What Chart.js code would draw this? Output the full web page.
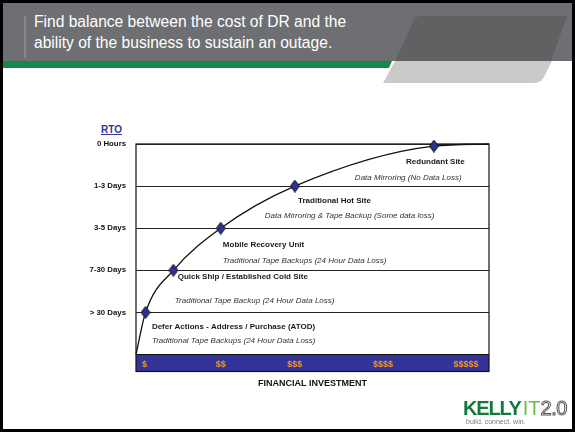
<!DOCTYPE html>
<html>
<head>
<meta charset="utf-8">
<script src="https://cdn.jsdelivr.net/npm/chart.js@4"></script>
<style>
  html, body { margin: 0; padding: 0; background: #fff; }
  #slide { position: relative; width: 575px; height: 432px; overflow: hidden; background: #fff;
           font-family: "Liberation Sans", Arial, sans-serif; }
  #deco { position: absolute; left: 0; top: 0; }
  #frame { position: absolute; left: 0; top: 0; width: 575px; height: 432px; box-sizing: border-box;
           border: 3px solid #000; z-index: 5; }
  #headline { position: absolute; left: 34px; top: 11px; color: #fff; font-size: 15.6px; line-height: 21px; }
  #rto { position: absolute; left: 101px; top: 124px; font-size: 10px; font-weight: bold; color: #333399;
         text-decoration: underline; }
  #chartBox { position: absolute; left: 0; top: 0; width: 575px; height: 432px; }
  #logo { position: absolute; left: 463px; top: 397px; white-space: nowrap; line-height: 22px; }
  #logo .kelly { font-size: 20px; font-weight: bold; color: #127a3e; letter-spacing: -1.2px; }
  #logo .it { font-size: 20px; color: #6cbd45; margin-left: 2px; }
  #logo .ver { font-size: 20px; color: #fff; -webkit-text-stroke: 1px #555; letter-spacing: -0.5px; }
  #tag { position: absolute; left: 466px; top: 418px; font-size: 7px; color: #7a7a7a; }
</style>
</head>
<body>
<div id="slide">
  <svg id="deco" width="575" height="432">
    <rect x="0" y="0" width="575" height="61" fill="#6e6f72"/>
    <path d="M395 61 L414 20 Q416 16 421 16 L567 16 L551 61 Z" fill="#606163"/>
    <path d="M0 61 H392 L389 68 H0 Z" fill="#138a4b"/>
    <path d="M395 61 H552 L544 77 Q541 83 533 83 H383 Z" fill="#cacaca"/>
    <line x1="25" y1="16" x2="25" y2="58" stroke="#8e8f92" stroke-width="1.5"/>
  </svg>
  <div id="headline">Find balance between the cost of DR and the<br>ability of the business to sustain an outage.</div>
  <div id="rto">RTO</div>
  <div id="chartBox"><canvas id="drChart"></canvas></div>
  <div id="logo"><span class="kelly">KELLY</span><span class="it">IT</span><span class="ver">2.0</span></div>
  <div id="tag">build. connect. win.</div>
  <div id="frame"></div>
</div>

<script>
const FONT = '"Liberation Sans", Arial, sans-serif';

// RTO levels (y) and investment ticks (x)
const rtoLabels = ['> 30 Days', '7-30 Days', '3-5 Days', '1-3 Days', '0 Hours'];
const rtoLevels = [1, 2, 3, 4, 5];
const costTicks = [2.4, 24, 45, 70, 93.5];
const costLabels = ['$', '$$', '$$$', '$$$$', '$$$$$'];

// cost / recovery curve, diamonds on the inner points
const investment = [0, 2.7, 10.6, 24, 45, 84.4, 100];
const recovery = [0, 1, 2, 3, 4, 4.95, 5];
const markerSize = [0, 5, 5, 5, 5, 5, 0];

const tierNames = [
  'Redundant Site',
  'Traditional Hot Site',
  'Mobile Recovery Unit',
  'Quick Ship / Established Cold Site',
  'Defer Actions - Address / Purchase (ATOD)'
];
const tierNotes = [
  'Data Mirroring (No Data Loss)',
  'Data Mirroring & Tape Backup (Some data loss)',
  'Traditional Tape Backups (24 Hour Data Loss)',
  'Traditional Tape Backup (24 Hour Data Loss)',
  'Traditional Tape Backups (24 Hour Data Loss)'
];

// where the labels sit, in chart units
const namePos = [[76.5, 4.57], [45.9, 3.64], [24.6, 2.60], [11.8, 1.85], [4.5, 0.65]];
const notePos = [[62.0, 4.20], [36.5, 3.29], [24.6, 2.22], [11.0, 1.27], [4.5, 0.33]];

function diamond(w, h) {
  const c = document.createElement('canvas');
  c.width = w; c.height = h;
  const g = c.getContext('2d');
  g.beginPath();
  g.moveTo(w / 2, 0.5);
  g.lineTo(w - 0.5, h / 2);
  g.lineTo(w / 2, h - 0.5);
  g.lineTo(0.5, h / 2);
  g.closePath();
  g.fillStyle = '#2e3192';
  g.fill();
  g.strokeStyle = '#111';
  g.lineWidth = 1;
  g.stroke();
  return c;
}

const slideDecor = {
  id: 'slideDecor',
  beforeDraw(chart) {
    const { ctx, chartArea: a } = chart;
    ctx.save();
    ctx.fillStyle = '#333399';
    ctx.fillRect(a.left, a.bottom, a.right - a.left, 17);
    ctx.strokeStyle = '#111';
    ctx.lineWidth = 1.2;
    ctx.strokeRect(a.left, a.top, a.right - a.left, a.bottom + 17 - a.top);
    ctx.beginPath();
    ctx.moveTo(a.left, a.bottom);
    ctx.lineTo(a.right, a.bottom);
    ctx.stroke();
    ctx.restore();
  },
  afterDatasetsDraw(chart) {
    const { ctx } = chart;
    const xs = chart.scales.x, ys = chart.scales.y;
    ctx.save();
    ctx.textAlign = 'left';
    ctx.textBaseline = 'middle';
    ctx.font = 'bold 8px ' + FONT;
    ctx.fillStyle = '#1a1a1a';
    tierNames.forEach((t, i) => {
      ctx.fillText(t, xs.getPixelForValue(namePos[i][0]), ys.getPixelForValue(namePos[i][1]));
    });
    ctx.font = 'italic 8px ' + FONT;
    ctx.fillStyle = '#333';
    tierNotes.forEach((t, i) => {
      ctx.fillText(t, xs.getPixelForValue(notePos[i][0]), ys.getPixelForValue(notePos[i][1]));
    });
    ctx.restore();
  }
};

const ctx = document.getElementById('drChart').getContext('2d');
const drChart = new Chart(ctx, {
  type: 'line',
  data: {
    datasets: [{
      data: investment.map((v, i) => ({ x: v, y: recovery[i] })),
      borderColor: '#111',
      borderWidth: 1.3,
      fill: false,
      cubicInterpolationMode: 'monotone',
      pointStyle: diamond(10, 13),
      pointRadius: markerSize,
      pointHoverRadius: markerSize,
      clip: false
    }]
  },
  plugins: [slideDecor],
  options: {
    responsive: true,
    maintainAspectRatio: false,
    animation: false,
    events: [],
    layout: { padding: { left: 0, top: 144, right: 86, bottom: 37.5 } },
    plugins: { legend: { display: false }, tooltip: { enabled: false } },
    scales: {
      x: {
        type: 'linear', min: 0, max: 100,
        afterBuildTicks: s => { s.ticks = costTicks.map(v => ({ value: v })); },
        afterFit: s => { s.height = 40; },
        grid: { display: false },
        border: { display: false },
        ticks: {
          autoSkip: false, maxRotation: 0, padding: -3, color: '#f7941d',
          font: { family: FONT, size: 9, weight: 'bold' },
          callback: (v, i) => costLabels[i]
        },
        title: {
          display: true, text: 'FINANCIAL INVESTMENT', color: '#111',
          font: { family: FONT, size: 9, weight: 'bold' },
          padding: { top: 0, bottom: 6 }
        }
      },
      y: {
        type: 'linear', min: 0, max: 5,
        afterBuildTicks: s => { s.ticks = rtoLevels.map(v => ({ value: v })); },
        afterFit: s => { s.width = 136; },
        grid: { color: '#222', lineWidth: 1, drawTicks: false },
        border: { display: false },
        ticks: {
          padding: 10, color: '#111',
          font: { family: FONT, size: 7.8, weight: 'bold' },
          callback: (v, i) => rtoLabels[i]
        }
      }
    }
  }
});
</script>
</body>
</html>
